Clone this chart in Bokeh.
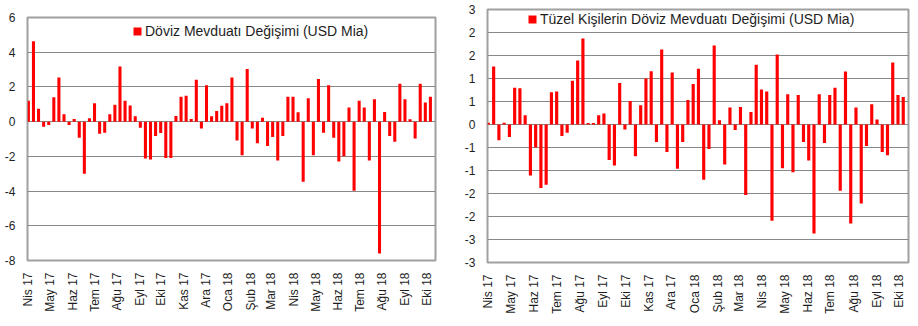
import pandas as pd
from bokeh.plotting import figure
from bokeh.layouts import row, column
from bokeh.models import FixedTicker, Range1d
from bokeh.embed import file_html
from bokeh.resources import INLINE

# ---------------- data ----------------
start_date = "2017-04-07"
n_weeks = 80

month_labels = ["Nis 17", "May 17", "Haz 17", "Tem 17", "Ağu 17", "Eyl 17", "Eki 17",
                "Kas 17", "Ara 17", "Oca 18", "Şub 18", "Mar 18", "Nis 18", "May 18",
                "Haz 18", "Tem 18", "Ağu 18", "Eyl 18", "Eki 18"]

doviz = [1.20, 4.63, 0.75, -0.29, -0.20, 1.41, 2.55, 0.42, -0.20, 0.15,
         -0.93, -3.00, 0.19, 1.06, -0.70, -0.64, 0.42, 0.98, 3.17, 1.20,
         0.93, 0.31, -0.35, -2.12, -2.18, -0.83, -0.65, -2.10, -2.10, 0.33,
         1.43, 1.49, 0.15, 2.41, -0.39, 2.10, 0.31, 0.62, 0.91, 1.06,
         2.55, -1.08, -1.93, 3.03, -0.39, -1.25, 0.23, -1.41, -0.89, -2.24,
         -0.83, 1.43, 1.43, 0.54, -3.47, 1.35, -1.93, 2.45, -0.64, 2.10,
         -0.93, -2.30, -1.99, 0.81, -3.98, 1.20, 0.81, -2.24, 1.29, -7.60,
         0.56, -0.83, -1.16, 2.18, 1.29, 0.14, -0.97, 2.18, 1.10, 1.43]

tuzel = [0.04, 1.26, -0.34, 0.04, -0.27, 0.80, 0.79, 0.20, -1.11, -0.50,
         -1.38, -1.31, 0.70, 0.72, -0.25, -0.18, 0.95, 1.39, 1.87, 0.03,
         0.03, 0.20, 0.24, -0.77, -0.89, 0.90, -0.11, 0.51, -0.69, 0.42,
         1.00, 1.16, -0.38, 1.63, -0.60, 1.13, -0.96, -0.38, 0.53, 0.88,
         1.21, -1.20, -0.53, 1.72, 0.09, -0.87, 0.37, -0.12, 0.38, -1.53,
         0.27, 1.30, 0.76, 0.72, -2.09, 1.52, -0.95, 0.66, -1.04, 0.64,
         -0.38, -0.78, -2.37, 0.66, -0.40, 0.64, 0.80, -1.44, 1.15, -2.15,
         0.37, -1.72, -0.47, 0.44, 0.11, -0.60, -0.67, 1.35, 0.64, 0.60]

left_yticks = [-8, -6, -4, -2, 0, 2, 4, 6]
left_ylabels = ["-8", "-6", "-4", "-2", "0", "2", "4", "6"]
right_yticks = [-3, -2.5, -2, -1.5, -1, -0.5, 0, 0.5, 1, 1.5, 2, 2.5]
right_ylabels = ["-3", "-3", "-2", "-2", "-1", "-1", "0", "1", "1", "2", "2", "3"]

left_title = "Döviz Mevduatı Değişimi (USD Mia)"
right_title = "Tüzel Kişilerin Döviz Mevduatı Değişimi (USD Mia)"

# ---------------- derived positions ----------------
start = pd.Timestamp(start_date)
dates = pd.date_range(start, periods=n_weeks, freq="7D")
xdays = [int((d - start).days) for d in dates]
month_days = [int((start + pd.DateOffset(months=i) - start).days) for i in range(len(month_labels))]

FONT = "Liberation Sans"
TXT = "#1e1e1e"


def make_panel(values, yticks, ylabels, yrange, title, width, height,
               bl, br, bt, bb, legend_loc):
    p = figure(width=width, height=height, output_backend="svg", toolbar_location=None,
               x_range=Range1d(-1.2, 560), y_range=Range1d(*yrange),
               min_border_left=bl, min_border_right=br, min_border_top=bt,
               min_border_bottom=bb)
    if "frame_align" in p.properties():
        p.frame_align = False
    p.vbar(x=xdays, top=values, bottom=0, width=4.2, fill_color="#ff0000",
           line_color=None, legend_label=title)
    p.background_fill_color = "white"
    p.border_fill_color = "white"
    p.outline_line_color = "#a0a0a0"
    p.outline_line_width = 2
    p.xgrid.grid_line_color = None
    p.ygrid.grid_line_color = "#888888"
    p.ygrid.grid_line_width = 1.2
    p.ygrid.ticker = FixedTicker(ticks=yticks)

    p.yaxis.ticker = FixedTicker(ticks=yticks)
    p.yaxis.major_label_overrides = {t: l for t, l in zip(yticks, ylabels)}
    p.xaxis.ticker = FixedTicker(ticks=month_days)
    p.xaxis.major_label_overrides = {d: l for d, l in zip(month_days, month_labels)}
    p.xaxis.major_label_orientation = 3.14159265 / 2
    for ax in (p.xaxis[0], p.yaxis[0]):
        ax.axis_line_color = None
        ax.major_tick_line_color = None
        ax.minor_tick_line_color = None
        ax.major_tick_out = 0
        ax.major_tick_in = 0
        ax.minor_tick_out = 0
        ax.minor_tick_in = 0
        ax.major_label_text_font = FONT
        ax.major_label_text_font_size = "12px"
        ax.major_label_text_color = TXT
    p.yaxis.major_label_standoff = 12
    p.xaxis.major_label_standoff = 12

    lg = p.legend[0]
    lg.location = legend_loc
    lg.border_line_color = None
    lg.background_fill_alpha = 0
    lg.padding = 0
    lg.margin = 0
    lg.spacing = 0
    lg.glyph_width = 10
    lg.glyph_height = 10
    lg.label_standoff = 3
    lg.label_text_font = FONT
    lg.label_text_font_size = "14px"
    lg.label_text_color = TXT
    lg.label_height = 10
    return p


left = make_panel(doviz, left_yticks, left_ylabels, (-8, 6), left_title,
                  459, 326, 27, 24, 17, 66, (105, 221))
right = make_panel(tuzel, right_yticks, right_ylabels, (-3, 2.5), right_title,
                   459, 326, 28, 10, 9, 64, (40, 235))

layout = row(column(left), column(right))
open("out.html", "w").write(file_html(layout, INLINE))
